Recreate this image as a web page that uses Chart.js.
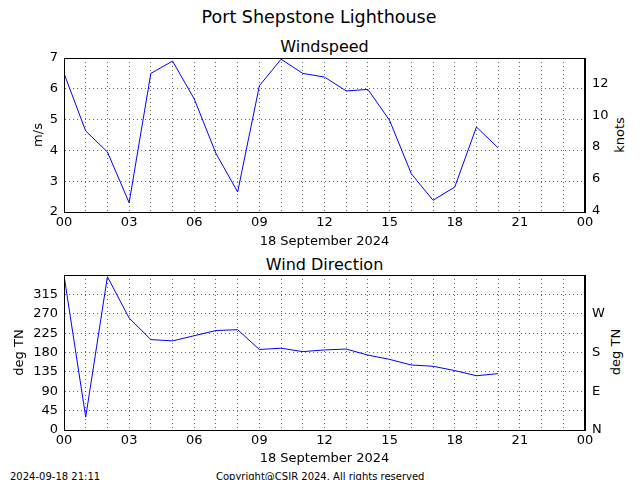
<!DOCTYPE html>
<html>
<head>
<meta charset="utf-8">
<script src="https://cdn.jsdelivr.net/npm/chart.js@4"></script>
<style>
  body { margin: 0; background: #fff; font-family: 'DejaVu Sans', sans-serif; }
  #wrap { position: relative; width: 640px; height: 480px; overflow: hidden; }
  canvas { position: absolute; left: 0; }
  .txt { position: absolute; transform: translate(-50%, -50%); white-space: nowrap; line-height: 1; color: #000; }
  .rot { transform: translate(-50%, -50%) rotate(-90deg); }
</style>
</head>
<body>
<div id="wrap">
  <div class="txt" style="left:319px;top:18px;font-size:17.5px">Port Shepstone Lighthouse</div>
  <div class="txt" style="left:324.5px;top:47px;font-size:16px">Windspeed</div>
  <div class="txt" style="left:324.5px;top:265px;font-size:16px">Wind Direction</div>
  <div class="txt rot" style="left:619px;top:135px;font-size:13px">knots</div>
  <div class="txt rot" style="left:615px;top:352px;font-size:13px">deg TN</div>
  <div style="position:absolute;left:10px;top:472px;font-size:10px;line-height:1">2024-09-18 21:11</div>
  <div style="position:absolute;left:216px;top:472px;font-size:10px;line-height:1">Copyright@CSIR 2024. All rights reserved</div>
  <canvas id="chart1" width="640" height="250" style="top:0"></canvas>
  <canvas id="chart2" width="640" height="230" style="top:250px"></canvas>
</div>
<script>
// hourly readings, 18 September 2024
let hours = [0,1,2,3,4,5,6,7,8,9,10,11,12,13,14,15,16,17,18,19,20];
let speed = [6.5,4.63,3.95,2.3,6.5,6.9,5.67,3.9,2.65,6.1,6.96,6.5,6.38,5.93,5.98,4.97,3.24,2.38,2.81,4.76,4.08];
let direction = [359,30,356,260,210,207,219,231,233,187,190,182,186,188,174,164,151,148,138,126,131];

let hourLabels = ['00','03','06','09','12','15','18','21','00'];
let compass = ['N','E','S','W'];
let msToKnots = 1.94384;

Chart.defaults.font.family = "'DejaVu Sans', sans-serif";
Chart.defaults.font.size = 13;
Chart.defaults.color = '#000';

// box round the plot area, like matplotlib
let frame = {
  id: 'frame',
  afterDraw(chart) {
    let a = chart.chartArea, ctx = chart.ctx;
    ctx.save();
    ctx.strokeStyle = '#000';
    ctx.lineWidth = 1;
    ctx.strokeRect(Math.round(a.left) + 0.5, Math.round(a.top) + 0.5, Math.round(a.right - a.left) - 1, Math.round(a.bottom - a.top));
    ctx.restore();
  }
};

let dotted = { color: 'rgba(0,0,0,0.6)', lineWidth: 1, drawTicks: false };

function xAxis(h, titlePad) {
  return {
    type: 'linear', min: 0, max: 24,
    grid: dotted,
    border: { dash: [1, 3], color: '#000' },
    ticks: {
      stepSize: 1, autoSkip: false, maxRotation: 0, padding: 3,
      callback: v => v % 3 === 0 ? hourLabels[v / 3] : ''
    },
    title: { display: true, text: '18 September 2024', padding: { top: 0, bottom: titlePad } },
    afterFit: s => { s.height = h; }
  };
}

function series(values) {
  return hours.map((h, i) => ({ x: h, y: values[i] }));
}

let line = { borderColor: '#0000ff', borderWidth: 1, pointRadius: 0, tension: 0, fill: false };

new Chart(document.getElementById('chart1'), {
  type: 'line',
  data: { datasets: [Object.assign({ data: series(speed), yAxisID: 'y' }, line)] },
  options: {
    responsive: false, animation: false,
    layout: { padding: { top: 58, left: 0, right: 0, bottom: 0 } },
    plugins: { legend: { display: false }, tooltip: { enabled: false } },
    scales: {
      x: xAxis(38, 0.5),
      y: {
        min: 2, max: 7,
        grid: dotted,
        border: { dash: [1, 3], color: '#000' },
        ticks: { stepSize: 1, padding: 6 },
        title: { display: true, text: 'm/s', padding: { top: 31, bottom: 0 } },
        afterFit: s => { s.width = 64; }
      },
      y2: {
        position: 'right',
        min: 2 * msToKnots, max: 7 * msToKnots,
        grid: { display: false, drawTicks: false },
        border: { color: '#000' },
        ticks: { stepSize: 2, padding: 7 },
        afterBuildTicks: s => { s.ticks = [4, 6, 8, 10, 12].map(v => ({ value: v })); },
        afterFit: s => { s.width = 55; }
      }
    }
  },
  plugins: [frame]
});

new Chart(document.getElementById('chart2'), {
  type: 'line',
  data: { datasets: [Object.assign({ data: series(direction), yAxisID: 'y' }, line)] },
  options: {
    responsive: false, animation: false,
    layout: { padding: { top: 25, left: 0, right: 0, bottom: 0 } },
    plugins: { legend: { display: false }, tooltip: { enabled: false } },
    scales: {
      x: xAxis(50, 13.5),
      y: {
        min: 0, max: 360,
        grid: dotted,
        border: { dash: [1, 3], color: '#000' },
        ticks: { stepSize: 45, padding: 6, callback: v => v < 360 ? v : '' },
        title: { display: true, text: 'deg TN', padding: { top: 12, bottom: 0 } },
        afterFit: s => { s.width = 64; }
      },
      y2: {
        position: 'right',
        min: 0, max: 360,
        grid: { display: false, drawTicks: false },
        border: { color: '#000' },
        ticks: { stepSize: 90, padding: 7, callback: v => v < 360 ? compass[v / 90] : '' },
        afterFit: s => { s.width = 55; }
      }
    }
  },
  plugins: [frame]
});
</script>
</body>
</html>
